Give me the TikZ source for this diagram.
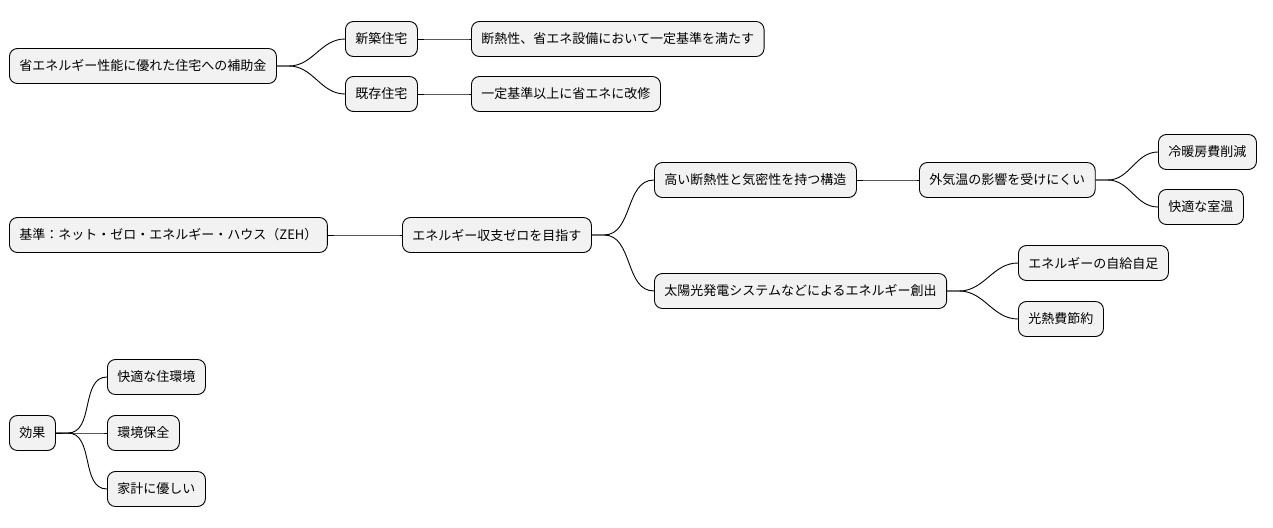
\documentclass[tikz,border=0pt]{standalone}
\usepackage{fontspec}
\setmainfont{Noto Sans CJK JP}
\begin{document}
\begin{tikzpicture}[x=1pt,y=-1pt,
  box/.style={draw=black,line width=0.9pt,fill=gray!10,rounded corners=8pt,minimum height=35pt,inner xsep=10pt,anchor=west,font=\fontsize{13}{15}\selectfont},
  link/.style={draw=black,line width=0.9pt}]
\useasboundingbox (0,0) rectangle (1273,527);
\node[box] (a) at (9,66) {省エネルギー性能に優れた住宅への補助金};
\node[box] (a1) at (345,39) {新築住宅};
\node[box] (a11) at (471,39) {断熱性、省エネ設備において一定基準を満たす};
\node[box] (a2) at (345,94) {既存住宅};
\node[box] (a21) at (471,94) {一定基準以上に省エネに改修};
\node[box] (b) at (9,235) {基準：ネット・ゼロ・エネルギー・ハウス（ZEH）};
\node[box] (b1) at (402,235) {エネルギー収支ゼロを目指す};
\node[box] (c1) at (654,180) {高い断熱性と気密性を持つ構造};
\node[box] (c11) at (919,180) {外気温の影響を受けにくい};
\node[box] (c111) at (1158,152) {冷暖房費削減};
\node[box] (c112) at (1158,207) {快適な室温};
\node[box] (c2) at (654,291) {太陽光発電システムなどによるエネルギー創出};
\node[box] (c21) at (1018,263) {エネルギーの自給自足};
\node[box] (c22) at (1018,319) {光熱費節約};
\node[box] (d) at (9,433) {効果};
\node[box] (d1) at (107,377) {快適な住環境};
\node[box] (d2) at (107,433) {環境保全};
\node[box] (d3) at (107,489) {家計に優しい};
\foreach \p/\c in {a/a1,a/a2,a1/a11,a2/a21,b/b1,b1/c1,b1/c2,c1/c11,c11/c111,c11/c112,c2/c21,c2/c22,d/d1,d/d2,d/d3}
  \draw[link] (\p.east) -- ++(12,0) to[out=0,in=180] (\c.west);
\end{tikzpicture}
\end{document}
